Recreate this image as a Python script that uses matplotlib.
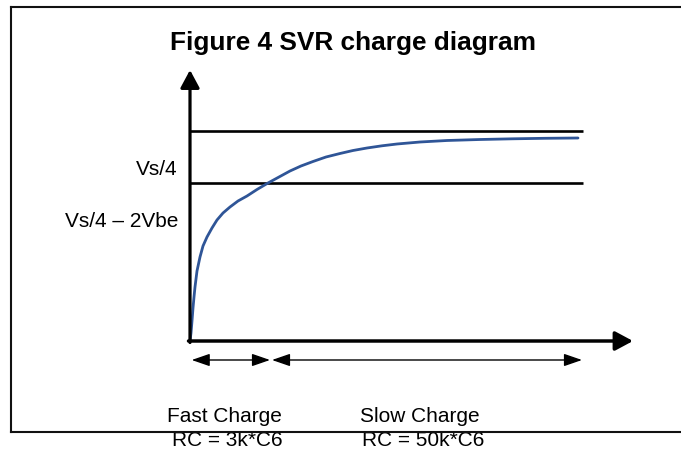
import matplotlib.pyplot as plt
from matplotlib.lines import Line2D

plt.rcParams['font.family'] = ['Liberation Sans', 'DejaVu Sans']

# charge curve (time and voltage in arbitrary units)
t_curve = [0, 1, 2, 3, 4, 5, 7, 10, 13, 17, 22, 27, 33, 40, 48, 57, 67, 78, 89,
           100, 111, 123, 136, 150, 163, 177, 192, 207, 230, 257, 290, 323, 355, 388]
v_curve = [0, 8, 20, 33, 44, 54, 70, 84, 95, 104, 113, 121, 128, 134, 140, 145, 151.5, 158, 164,
           170, 175, 179.5, 184, 187.5, 190.5, 193, 195.2, 197, 199, 200.5, 201.5, 202.2, 202.7, 203]

# reference levels
level_vs4 = 158
level_top = 210
level_end = 393

# axis extents
t_axis_end = 443
v_axis_end = 271

# charge phase spans (fast, slow) and label text
phase_spans = [(1.7, 80), (82, 392)]
phase_labels = ['Fast Charge\nRC = 3k*C6', 'Slow Charge\nRC = 50k*C6']
phase_label_x = [34, 230]
level_labels = ['Vs/4', 'Vs/4 \u2013 2Vbe']
level_label_y = [166, 114]

W, H = 681, 450
fig = plt.figure(figsize=(W / 100, H / 100), dpi=100)
ax = fig.add_axes([0, 0, 1, 1])
# origin of the diagram sits at pixel (190, 341)
ax.set_xlim(-190, W - 190)
ax.set_ylim(-(H - 341), 341)
ax.axis('off')

# outer frame (right side runs off the image)
frame_kw = dict(color='#111111', lw=1.5, transform=fig.transFigure)
fig.add_artist(Line2D([11 / W, 11 / W], [1 - 7 / H, 1 - 431.5 / H], **frame_kw))
fig.add_artist(Line2D([11 / W, 1.05], [1 - 7 / H, 1 - 7 / H], **frame_kw))
fig.add_artist(Line2D([11 / W, 1.05], [1 - 431.5 / H, 1 - 431.5 / H], **frame_kw))

fig.text(353.5 / W, 1 - 50 / H, 'Figure 4 SVR charge diagram', ha='center', va='baseline',
         fontsize=18.9, fontweight='bold', color='black')

# level lines
for lv in [level_top, level_vs4]:
    ax.plot([0, level_end], [lv, lv], color='black', lw=1.9, solid_capstyle='butt')

# charge curve
ax.plot(t_curve, v_curve, color='#2F5597', lw=2.0, solid_capstyle='round',
        solid_joinstyle='round')

# axes arrows
axis_style = '-|>,head_length=10.8,head_width=5.8'
ax.annotate('', xy=(0, v_axis_end), xytext=(0, -1.5),
            arrowprops=dict(arrowstyle=axis_style, mutation_scale=1, lw=2.3,
                            color='black', shrinkA=0, shrinkB=0))
ax.annotate('', xy=(t_axis_end, 0), xytext=(-1.5, 0),
            arrowprops=dict(arrowstyle=axis_style, mutation_scale=1, lw=2.5,
                            color='black', shrinkA=0, shrinkB=0))

# phase span arrows
span_style = '<|-|>,head_length=11,head_width=3.8'
for (t0, t1) in phase_spans:
    ax.annotate('', xy=(t1, -19), xytext=(t0, -19),
                arrowprops=dict(arrowstyle=span_style, mutation_scale=1, lw=1.0,
                                color='black', shrinkA=0, shrinkB=0))

# labels
for txt, yv in zip(level_labels, level_label_y):
    ax.text(-12, yv, txt, ha='right', va='baseline', fontsize=15)

for txt, xv in zip(phase_labels, phase_label_x):
    first, second = txt.split('\n')
    ax.text(xv, -80.7, first, ha='center', va='baseline', fontsize=15)
    ax.text(xv + 3, -104.5, second, ha='center', va='baseline', fontsize=15)

fig.savefig('out.png', dpi=100)
